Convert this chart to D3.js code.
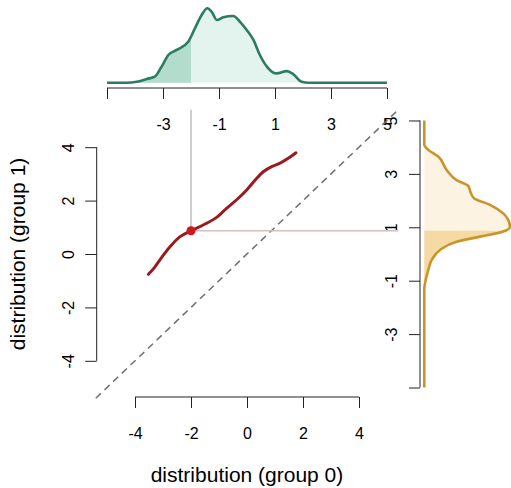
<!DOCTYPE html>
<html>
<head>
<meta charset="utf-8">
<script src="https://cdn.jsdelivr.net/npm/d3@7"></script>
<style>
  body { margin: 0; background: #fff; }
  svg { display: block; }
  text { font-family: 'Liberation Sans', Arial, Helvetica, sans-serif; fill: #000; }
</style>
</head>
<body>
<svg id="chart" width="511" height="488"></svg>
<script>
// quantile-quantile curve (group 0 vs group 1)
const qqX = [-3.52, -3.3, -3.11, -2.92, -2.75, -2.39, -2.0, -1.44, -1.05, -0.73, -0.35, -0.01, 0.3, 0.58, 0.9, 1.18, 1.5, 1.75];
const qqY = [-0.76, -0.5, -0.22, 0.05, 0.27, 0.65, 0.87, 1.15, 1.4, 1.71, 2.05, 2.4, 2.78, 3.08, 3.28, 3.4, 3.6, 3.79];
const markX = -2.0;
const markY = 0.87;

// marginal density of group 0 (top)
const dens0X = [-5, -4.3, -3.94, -3.58, -3.29, -3.05, -2.81, -2.51, -2.1, -1.86, -1.62, -1.42, -1.26, -1.08, -0.85, -0.49, -0.25, -0.01, 0.23, 0.46, 0.76, 1.06, 1.42, 1.65, 1.95, 2.2, 5];
const dens0Y = [0, 0, 0.004, 0.016, 0.026, 0.069, 0.119, 0.141, 0.176, 0.234, 0.291, 0.32, 0.305, 0.27, 0.281, 0.287, 0.262, 0.227, 0.184, 0.119, 0.062, 0.04, 0.05, 0.037, 0.004, 0, 0];

// marginal density of group 1 (right)
const dens1Y = [-5, -1.3, -1.1, -0.6, -0.22, 0.15, 0.46, 0.65, 0.84, 1.02, 1.3, 1.52, 1.84, 2.09, 2.3, 2.55, 2.77, 3.15, 3.65, 3.9, 4.1, 5];
const dens1D = [0, 0, 0.003, 0.017, 0.032, 0.068, 0.139, 0.24, 0.34, 0.369, 0.36, 0.34, 0.283, 0.214, 0.2, 0.189, 0.139, 0.096, 0.06, 0.017, 0, 0];

const mainXTicks = [-4, -2, 0, 2, 4];
const mainYTicks = [-4, -2, 0, 2, 4];
const margTicks = [-5, -3, -1, 1, 3, 5];

const svg = d3.select('#chart');

const x = d3.scaleLinear().domain([-5.4, 5.4]).range([95.8, 398.2]);
const y = d3.scaleLinear().domain([-5.4, 5.4]).range([398.2, 109.8]);
const dTop = d3.scaleLinear().domain([0, 0.32]).range([82.7, 8.3]);
const dRight = d3.scaleLinear().domain([0, 0.369]).range([424.3, 510]);

const plain = (d) => String(d); // R style hyphen minus
const margFmt = (d) => (d === -5 ? '' : String(d));

const defs = svg.append('defs');
defs.append('clipPath').attr('id', 'clipTop')
  .append('rect').attr('x', 0).attr('y', 0).attr('width', x(markX)).attr('height', 100);
defs.append('clipPath').attr('id', 'clipRight')
  .append('rect').attr('x', 400).attr('y', y(markY)).attr('width', 120).attr('height', 300);

// ---- top density
const topPts = dens0X.map((v, i) => [v, dens0Y[i]]);
const areaTop = d3.area().x((d) => x(d[0])).y0(dTop(0)).y1((d) => dTop(d[1])).curve(d3.curveMonotoneX);
const lineTop = d3.line().x((d) => x(d[0])).y((d) => dTop(d[1])).curve(d3.curveMonotoneX);
svg.append('path').attr('d', areaTop(topPts)).attr('fill', '#e3f3ee');
svg.append('path').attr('d', areaTop(topPts)).attr('fill', '#b3dccd').attr('clip-path', 'url(#clipTop)');
svg.append('path').attr('d', lineTop(topPts)).attr('fill', 'none').attr('stroke', '#2b7c60').attr('stroke-width', 2.6);

// ---- right density
const rightPts = dens1Y.map((v, i) => [v, dens1D[i]]);
const areaRight = d3.area().y((d) => y(d[0])).x0(dRight(0)).x1((d) => dRight(d[1])).curve(d3.curveMonotoneY);
const lineRight = d3.line().y((d) => y(d[0])).x((d) => dRight(d[1])).curve(d3.curveMonotoneY);
svg.append('path').attr('d', areaRight(rightPts)).attr('fill', '#fdf3e2');
svg.append('path').attr('d', areaRight(rightPts)).attr('fill', '#f6daa3').attr('clip-path', 'url(#clipRight)');
svg.append('path').attr('d', lineRight(rightPts)).attr('fill', 'none').attr('stroke', '#c9952b').attr('stroke-width', 2.6);

// ---- axes
function fixAxis(g, lo, hi, horizontal) {
  g.select('.domain').remove();
  g.selectAll('.tick line').attr('stroke', '#222');
  if (horizontal) {
    g.append('line').attr('x1', x(lo)).attr('x2', x(hi)).attr('stroke', '#222');
  } else {
    g.append('line').attr('y1', y(lo)).attr('y2', y(hi)).attr('stroke', '#222');
  }
  g.selectAll('.tick text').attr('fill', '#000').style('font-size', '16px')
    .style('font-family', "'Liberation Sans', Arial, sans-serif");
}

const gx = svg.append('g').attr('transform', 'translate(0,397)')
  .call(d3.axisBottom(x).tickValues(mainXTicks).tickFormat(plain).tickSize(11).tickSizeOuter(0));
fixAxis(gx, -4, 4, true);
gx.selectAll('.tick text').attr('y', 42).attr('dy', null);

const gy = svg.append('g').attr('transform', 'translate(96.7,0)')
  .call(d3.axisLeft(y).tickValues(mainYTicks).tickFormat(plain).tickSize(11.5).tickSizeOuter(0));
fixAxis(gy, -4, 4, false);
gy.selectAll('.tick text').attr('x', null).attr('dy', null)
  .attr('text-anchor', 'middle').attr('transform', 'translate(-22.7,0) rotate(-90)');

const gt = svg.append('g').attr('transform', 'translate(0,88)')
  .call(d3.axisBottom(x).tickValues(margTicks).tickFormat(margFmt).tickSize(11).tickSizeOuter(0));
fixAxis(gt, -5, 5, true);
gt.selectAll('.tick text').attr('y', 42).attr('dy', null);

const gr = svg.append('g').attr('transform', 'translate(420,0)')
  .call(d3.axisLeft(y).tickValues(margTicks).tickFormat(margFmt).tickSize(11).tickSizeOuter(0));
fixAxis(gr, -5, 5, false);
gr.selectAll('.tick text').attr('x', null).attr('dy', null)
  .attr('text-anchor', 'middle').attr('transform', 'translate(-23.5,0) rotate(-90)');

// ---- reference lines
svg.append('line')
  .attr('x1', x(-5.4)).attr('y1', y(-5.4)).attr('x2', x(5.4)).attr('y2', y(5.4))
  .attr('stroke', '#6e6e6e').attr('stroke-width', 1.5).attr('stroke-dasharray', '7,5');

svg.append('line')
  .attr('x1', x(markX)).attr('y1', y(markY)).attr('x2', x(markX)).attr('y2', y(5.4))
  .attr('stroke', '#a09898').attr('stroke-width', 1);
svg.append('line')
  .attr('x1', x(markX)).attr('y1', y(markY)).attr('x2', x(5.4)).attr('y2', y(markY))
  .attr('stroke', '#d6bfbf').attr('stroke-width', 1.5);

// ---- qq curve
const qq = qqX.map((v, i) => [v, qqY[i]]);
svg.append('path')
  .attr('d', d3.line().x((d) => x(d[0])).y((d) => y(d[1])).curve(d3.curveCatmullRom)(qq))
  .attr('fill', 'none').attr('stroke', '#9a1b1e').attr('stroke-width', 3).attr('stroke-linecap', 'round');

svg.append('circle').attr('cx', x(markX)).attr('cy', y(markY)).attr('r', 4.5).attr('fill', '#d2171c');

// ---- titles
svg.append('text').attr('x', x(0)).attr('y', 482).attr('text-anchor', 'middle')
  .style('font-size', '21px').text('distribution (group 0)');
svg.append('text').attr('text-anchor', 'middle')
  .attr('transform', 'translate(25,' + y(0) + ') rotate(-90)')
  .style('font-size', '21px').text('distribution (group 1)');
</script>
</body>
</html>
